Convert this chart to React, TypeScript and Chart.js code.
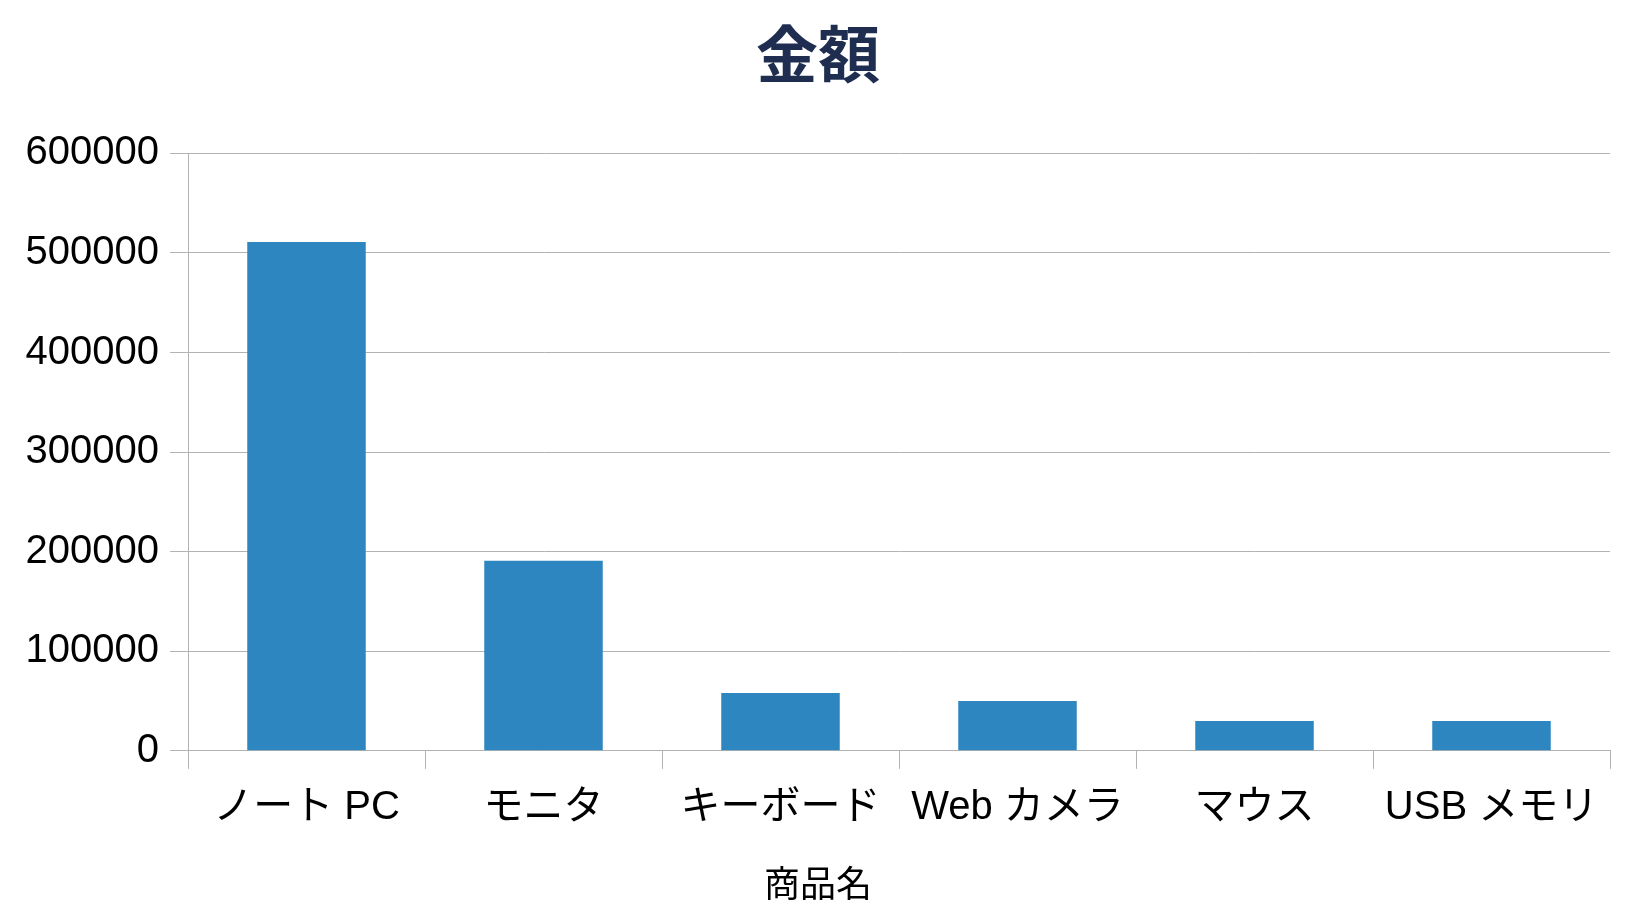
import { useEffect, useRef } from "react";
import Chart from "chart.js/auto";

// data
const categories = ["ノート PC", "モニタ", "キーボード", "Web カメラ", "マウス", "USB メモリ"];
const amounts = [511000, 191000, 58000, 50000, 30000, 30000];
const chartTitle = "金額";
const xTitle = "商品名";

const FONT = "'Liberation Sans', 'Noto Sans CJK JP', sans-serif";
const GRID = "#b3b3b3";

const App = () => {
    const chartRef = useRef<HTMLCanvasElement | null>(null);

    useEffect(() => {
        const ctx = chartRef.current!.getContext("2d")!;

        const chart = new Chart(ctx, {
            type: "bar",
            data: {
                labels: categories,
                datasets: [{
                    label: chartTitle,
                    data: amounts,
                    backgroundColor: "#2e86c1",
                    barPercentage: 1,
                    categoryPercentage: 0.5
                }]
            },
            options: {
                animation: false,
                responsive: true,
                maintainAspectRatio: false,
                layout: { padding: { left: 26, right: 26, top: 0, bottom: 0 } },
                plugins: {
                    legend: { display: false },
                    tooltip: { enabled: false },
                    title: {
                        display: true,
                        text: chartTitle,
                        color: "#1e2d50",
                        font: { family: "'Noto Sans CJK JP', sans-serif", size: 62, weight: "bold" },
                        padding: { top: 17, bottom: 62 }
                    },
                    // x axis title, centred on the whole canvas like the reference
                    subtitle: {
                        display: true,
                        position: "bottom",
                        text: xTitle,
                        color: "#000",
                        font: { family: FONT, size: 36, weight: "normal" },
                        padding: { top: 19, bottom: 15 }
                    }
                },
                scales: {
                    x: {
                        grid: {
                            offset: true,
                            drawOnChartArea: false,
                            drawTicks: true,
                            tickLength: 18,
                            color: GRID
                        },
                        border: { display: true, color: GRID },
                        ticks: {
                            color: "#000",
                            font: { family: FONT, size: 40 },
                            padding: 15,
                            maxRotation: 0,
                            autoSkip: false
                        }
                    },
                    y: {
                        min: 0,
                        max: 600000,
                        afterFit: (scale) => { scale.width = 162; },
                        grid: { color: GRID, tickLength: 18 },
                        border: { display: true, color: GRID },
                        ticks: {
                            stepSize: 100000,
                            color: "#000",
                            font: { family: FONT, size: 40 },
                            padding: 11,
                            callback: (v) => String(v)
                        }
                    }
                }
            }
        });

        return () => chart.destroy();
    }, []);

    return (
        <div style={{ position: "fixed", left: 0, top: 0, width: "1636px", height: "924px", background: "#fff" }}>
            <canvas ref={chartRef} />
        </div>
    );
};

export default App;
